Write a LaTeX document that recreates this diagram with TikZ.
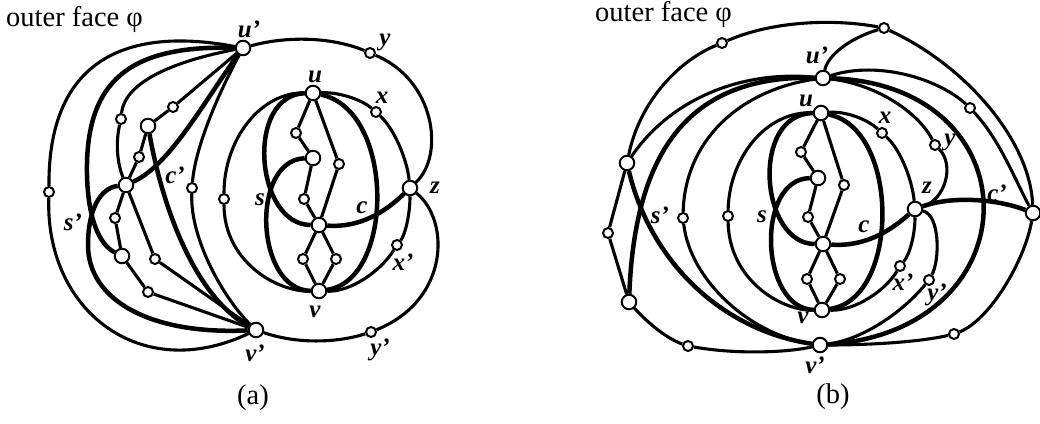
\documentclass[tikz,border=0pt]{standalone}
\usepackage{fontspec}
\setmainfont{Liberation Serif}
\usepackage{tikz}

\begin{document}
\begin{tikzpicture}[x=1pt,y=-1pt,
			vs/.style={circle,draw,fill=white,line width=2pt,inner sep=0pt,minimum size=10pt},
			vl/.style={circle,draw,fill=white,line width=2pt,inner sep=0pt,minimum size=14.5pt},
			ln/.style={line width=3.1pt},
			tk/.style={line width=4.5pt},
			lab/.style={inner sep=0pt,font=\fontsize{25}{25}\selectfont\bfseries\itshape},
			captext/.style={inner sep=0pt,font=\fontsize{28.5}{28.5}\selectfont}]
			\useasboundingbox (0,0) rectangle (1040,423);
			\node[captext,anchor=base west] (fa) at (6,27) {outer face φ};
			\node[captext,anchor=base west] (fb) at (595,21) {outer face φ};
			\node[captext] (ta) at (253,398) {(a)};
			\node[captext] (tb) at (833,397) {(b)};
			% (a)
			\node[vl] (aup) at (243,48) {};
			\node[vl] (avp) at (256,330) {};
			\node[vl] (au) at (313,93) {};
			\node[vl] (av) at (319,291) {};
			\node[vl] (ar) at (313,158) {};
			\node[vl] (ac) at (319,225) {};
			\node[vl] (az) at (410,188) {};
			\node[vs] (ay) at (370,53) {};
			\node[vs] (ax) at (376,112) {};
			\node[vs] (axp) at (397,245) {};
			\node[vs] (ayp) at (371,332) {};
			\node[vs] (aw) at (224,199) {};
			\node[vs] (a1) at (296,133) {};
			\node[vs] (a2) at (339,164) {};
			\node[vs] (a3) at (304,199) {};
			\node[vs] (a4) at (303,259) {};
			\node[vs] (a5) at (336,259) {};
			\node[vs] (ao) at (49,192) {};
			\node[vl] (an1) at (148,126) {};
			\node[vl] (an2) at (126,185) {};
			\node[vl] (an3) at (122,256) {};
			\node[vs] (ap1) at (173,107) {};
			\node[vs] (ap2) at (121,119) {};
			\node[vs] (ap3) at (139,157) {};
			\node[vs] (ap4) at (192,188) {};
			\node[vs] (ap5) at (115,218) {};
			\node[vs] (ap6) at (148,292) {};
			\node[vs] (ap7) at (155,259) {};
			\draw[ln] (aup) .. controls (120,25) and (48,65) .. (ao);
			\draw[ln] (ao) .. controls (45,310) and (140,385) .. (avp);
			\draw[tk] (aup) .. controls (130,45) and (85,80) .. (87,175) .. controls (88,220) and (100,245) .. (an3);
			\draw[ln] (aup) .. controls (180,60) and (125,80) .. (ap2);
			\draw[ln] (ap2) .. controls (115,145) and (118,165) .. (an2);
			\draw[ln] (aup) -- (ap1) -- (an1) -- (ap3) -- (an2);
			\draw[tk] (aup) .. controls (205,100) and (170,165) .. (an2);
			\draw[ln] (aup) .. controls (215,100) and (195,150) .. (ap4);
			\draw[ln] (ap4) .. controls (190,240) and (225,300) .. (avp);
			\draw[tk] (an1) .. controls (165,220) and (200,300) .. (avp);
			\draw[tk] (an2) .. controls (100,188) and (88,210) .. (88,245) .. controls (88,300) and (150,335) .. (avp);
			\draw[ln] (an2) -- (ap5) -- (an3) -- (ap6) -- (avp);
			\draw[ln] (an2) -- (ap7) -- (avp);
			\draw[ln] (aup) .. controls (290,35) and (335,38) .. (ay);
			\draw[ln] (ay) .. controls (435,80) and (445,155) .. (az);
			\draw[ln] (az) .. controls (450,220) and (450,300) .. (ayp);
			\draw[ln] (avp) .. controls (300,345) and (340,342) .. (ayp);
			\draw[ln] (au) .. controls (340,92) and (362,100) .. (ax);
			\draw[ln] (ax) .. controls (395,130) and (407,160) .. (az);
			\draw[ln] (az) .. controls (410,215) and (405,235) .. (axp);
			\draw[ln] (axp) .. controls (380,272) and (350,292) .. (av);
			\draw[ln] (au) .. controls (260,92) and (224,140) .. (aw);
			\draw[ln] (aw) .. controls (224,260) and (275,292) .. (av);
			\draw[tk] (au) .. controls (395,110) and (395,280) .. (av);
			\draw[tk] (ar) .. controls (250,160) and (255,290) .. (av);
			\draw[tk] (au) .. controls (245,95) and (255,225) .. (ac);
			\draw[tk] (ac) .. controls (360,228) and (385,212) .. (az);
			\draw[ln] (au) -- (a1) -- (ar) -- (a3) -- (ac);
			\draw[ln] (au) -- (a2) -- (ac);
			\draw[ln] (ac) -- (a4) -- (av);
			\draw[ln] (ac) -- (a5) -- (av);
			\node[lab] (lup) at (249,29) {u'};
			\node[lab] (ly) at (385,42) {y};
			\node[lab] (lu) at (315,77) {u};
			\node[lab] (lx) at (382,98) {x};
			\node[lab] (lz) at (435,188) {z};
			\node[lab] (ls) at (260,200) {s};
			\node[lab] (lc) at (362,208) {c};
			\node[lab] (lxp) at (403,262) {x'};
			\node[lab] (lv) at (315,312) {v};
			\node[lab] (lvp) at (255,353) {v'};
			\node[lab] (lyp) at (380,350) {y'};
			\node[lab] (lcp) at (175,175) {c'};
			\node[lab] (lsp) at (73,222) {s'};
			% (b)
			\node[vl] (bup) at (823,78) {};
			\node[vl] (bvp) at (820,345) {};
			\node[vl] (bu) at (821,113) {};
			\node[vl] (bv) at (822,310) {};
			\node[vl] (br) at (818,178) {};
			\node[vl] (bc) at (823,244) {};
			\node[vl] (bz) at (915,209) {};
			\node[vs] (bx) at (882,133) {};
			\node[vs] (by) at (935,145) {};
			\node[vs] (bxp) at (900,266) {};
			\node[vs] (byp) at (929,280) {};
			\node[vs] (bw) at (728,216) {};
			\node[vs] (b1) at (801,152) {};
			\node[vs] (b2) at (844,185) {};
			\node[vs] (b3) at (808,217) {};
			\node[vs] (b4) at (807,279) {};
			\node[vs] (b5) at (840,279) {};
			\node[vl] (bcp) at (1033,213) {};
			\node[vs] (bt1) at (722,43) {};
			\node[vs] (bt2) at (884,28) {};
			\node[vs] (bt3) at (970,108) {};
			\node[vl] (bb1) at (627,163) {};
			\node[vl] (bb2) at (629,302) {};
			\node[vs] (bl) at (608,233) {};
			\node[vs] (bq) at (683,218) {};
			\node[vs] (bm) at (688,346) {};
			\node[vs] (bn) at (954,334) {};
			\draw[ln] (bb1) .. controls (640,100) and (680,60) .. (bt1);
			\draw[ln] (bt1) .. controls (770,22) and (830,18) .. (bt2);
			\draw[ln] (bt2) .. controls (965,65) and (1030,140) .. (bcp);
			\draw[ln] (bup) .. controls (828,55) and (850,38) .. (bt2);
			\draw[ln] (bb1) .. controls (670,100) and (740,70) .. (bup);
			\draw[ln] (bup) .. controls (880,60) and (940,80) .. (bt3);
			\draw[ln] (bt3) .. controls (1000,140) and (1015,180) .. (bcp);
			\draw[ln] (bup) .. controls (880,85) and (920,115) .. (by);
			\draw[ln] (by) .. controls (955,165) and (945,200) .. (bz);
			\draw[ln] (bz) .. controls (940,215) and (940,260) .. (byp);
			\draw[ln] (byp) .. controls (900,315) and (860,340) .. (bvp);
			\draw[tk] (bz) .. controls (955,195) and (1000,200) .. (bcp);
			\draw[tk] (bup) .. controls (1035,85) and (1035,330) .. (bvp);
			\draw[tk] (bup) .. controls (690,75) and (635,150) .. (bb2);
			\draw[tk] (bb1) .. controls (650,260) and (720,330) .. (bvp);
			\draw[ln] (bup) .. controls (740,90) and (685,140) .. (bq);
			\draw[ln] (bq) .. controls (690,280) and (750,335) .. (bvp);
			\draw[ln] (bb1) -- (bl) -- (bb2);
			\draw[ln] (bb2) .. controls (645,320) and (665,338) .. (bm);
			\draw[ln] (bm) .. controls (740,355) and (790,352) .. (bvp);
			\draw[ln] (bvp) .. controls (870,345) and (920,342) .. (bn);
			\draw[ln] (bn) .. controls (990,320) and (1025,260) .. (bcp);
			\draw[ln] (bu) .. controls (845,111) and (867,119) .. (bx);
			\draw[ln] (bx) .. controls (900,149) and (912,179) .. (bz);
			\draw[ln] (bz) .. controls (915,234) and (910,254) .. (bxp);
			\draw[ln] (bxp) .. controls (885,291) and (855,311) .. (bv);
			\draw[ln] (bu) .. controls (765,111) and (729,159) .. (bw);
			\draw[ln] (bw) .. controls (729,279) and (780,311) .. (bv);
			\draw[tk] (bu) .. controls (900,129) and (900,299) .. (bv);
			\draw[tk] (br) .. controls (755,179) and (760,309) .. (bv);
			\draw[tk] (bu) .. controls (750,114) and (760,244) .. (bc);
			\draw[tk] (bc) .. controls (865,247) and (890,231) .. (bz);
			\draw[ln] (bu) -- (b1) -- (br) -- (b3) -- (bc);
			\draw[ln] (bu) -- (b2) -- (bc);
			\draw[ln] (bc) -- (b4) -- (bv);
			\draw[ln] (bc) -- (b5) -- (bv);
			\node[lab] (mup) at (817,55) {u'};
			\node[lab] (mu) at (806,101) {u};
			\node[lab] (mx) at (885,118) {x};
			\node[lab] (my) at (950,142) {y};
			\node[lab] (mz) at (927,188) {z};
			\node[lab] (mcp) at (997,193) {c'};
			\node[lab] (msp) at (660,215) {s'};
			\node[lab] (ms) at (762,217) {s};
			\node[lab] (mc) at (864,227) {c};
			\node[lab] (mxp) at (903,282) {x'};
			\node[lab] (myp) at (937,295) {y'};
			\node[lab] (mv) at (803,318) {v};
			\node[lab] (mvp) at (815,365) {v'};
		\end{tikzpicture}
\end{document}
